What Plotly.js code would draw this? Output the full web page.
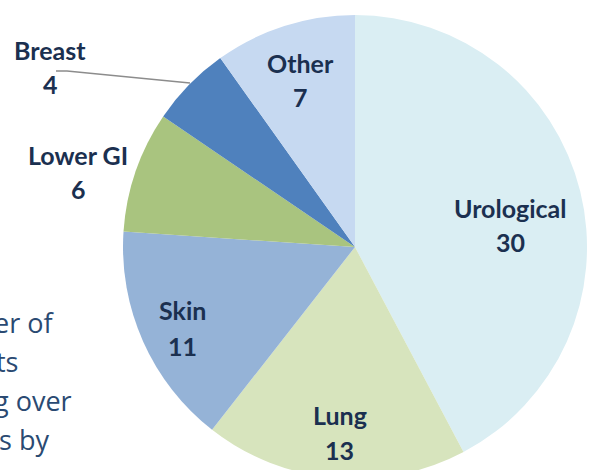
<!DOCTYPE html>
<html>
<head>
<meta charset="utf-8">
<script src="https://cdn.plot.ly/plotly-3.0.1.min.js"></script>
<style>
html,body{margin:0;padding:0;overflow:hidden;background:#fff;}
#chart{width:597px;height:500px;}
</style>
</head>
<body>
<div id="chart"></div>
<script>
// Data
const categories = ["Urological", "Lung", "Skin", "Lower GI", "Breast", "Other"];
const values = [30, 13, 11, 6, 4, 7];
const sliceColors = ["#DAEEF3", "#D7E4BD", "#95B3D7", "#A9C47F", "#4F81BD", "#C6D9F1"];
// Label positions (pixels in the 597x500 canvas): [x, yName, yValue]
const labelPos = [[510, 208, 242], [340, 415, 450], [182, 310, 346], [78, 155, 189], [50, 50, 84], [300, 63, 97]];
const sideText = ["er of", "ts", "g over", "s by"];
const sideTextPos = [[56, 322], [21, 361], [74, 400], [51, 439]];

const W = 597, H = 500;
const px = x => x / W;
const py = y => 1 - y / H;

const annotations = [];
const labelFont = {family: "Lato, 'Open Sans', sans-serif", size: 25, color: "#1B3050", weight: 700};
categories.forEach((c, i) => {
  const p = labelPos[i];
  annotations.push({xref: "paper", yref: "paper", x: px(p[0]), y: py(p[1]), text: "<b>" + c + "</b>",
    showarrow: false, xanchor: "center", yanchor: "middle", font: labelFont});
  annotations.push({xref: "paper", yref: "paper", x: px(p[0]), y: py(p[2]), text: "<b>" + values[i] + "</b>",
    showarrow: false, xanchor: "center", yanchor: "middle", font: labelFont});
});
sideText.forEach((t, i) => {
  const p = sideTextPos[i];
  annotations.push({xref: "paper", yref: "paper", x: px(p[0]), y: py(p[1]), text: t,
    showarrow: false, xanchor: "right", yanchor: "middle",
    font: {family: "'Open Sans', sans-serif", size: 27, color: "#2A4A72"}});
});

const data = [{
  type: "pie",
  labels: categories,
  values: values,
  sort: false,
  direction: "clockwise",
  rotation: 0,
  marker: {colors: sliceColors, line: {color: "#ffffff", width: 0}},
  textinfo: "none",
  hoverinfo: "label+value",
  domain: {x: [px(123), px(587)], y: [py(479), py(15)]}
}];

const layout = {
  width: W, height: H,
  margin: {l: 0, r: 0, t: 0, b: 0},
  paper_bgcolor: "#ffffff",
  showlegend: false,
  annotations: annotations,
  shapes: [{
    type: "path", xref: "paper", yref: "paper",
    path: "M " + px(56) + " " + py(71) + " L " + px(67) + " " + py(71) + " L " + px(190) + " " + py(83),
    line: {color: "#8C8C8C", width: 1.3}
  }]
};

Plotly.newPlot("chart", data, layout, {displayModeBar: false, staticPlot: true});
</script>
</body>
</html>
